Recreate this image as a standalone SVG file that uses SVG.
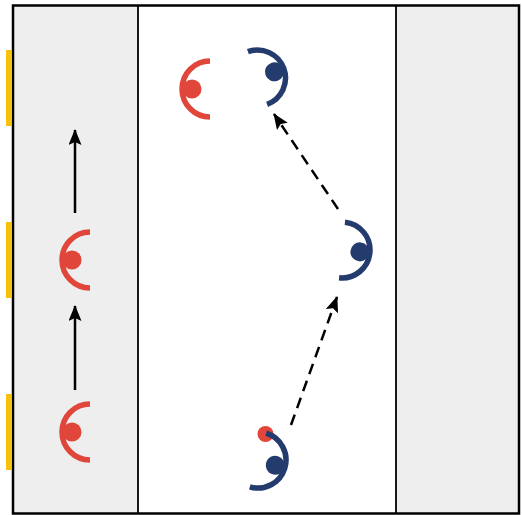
<svg xmlns="http://www.w3.org/2000/svg" width="522" height="515" viewBox="0 0 522 515">
<style>
.red{stroke:#e0463a;fill:#e0463a}
.blue{stroke:#243b6e;fill:#243b6e}
.arc{fill:none;stroke-width:5.5}
.head{stroke:none}
.conn{stroke:#000;stroke-width:2.5;fill:none}
.dash{stroke-dasharray:11,7}
</style>
<defs>
<marker id="ah" viewBox="0 0 16 13" refX="15" refY="6.5" markerWidth="16" markerHeight="13" markerUnits="userSpaceOnUse" orient="auto">
<path d="M0,0 L16,6.5 L0,13 L3,6.5 Z" fill="#000"/>
</marker>
</defs>
<g id="field">
<rect x="13" y="5.5" width="125" height="508" fill="#eeeeee"/>
<rect x="138" y="5.5" width="258" height="508" fill="#ffffff"/>
<rect x="396" y="5.5" width="123" height="508" fill="#eeeeee"/>
<line x1="138" y1="5.5" x2="138" y2="513.5" stroke="#000" stroke-width="1.8"/>
<line x1="396" y1="5.5" x2="396" y2="513.5" stroke="#000" stroke-width="1.8"/>
<rect x="13" y="5.5" width="506" height="508" fill="none" stroke="#000" stroke-width="2.5"/>
<rect x="6" y="50" width="5.5" height="76" fill="#f4c20d"/>
<rect x="6" y="222" width="5.5" height="76" fill="#f4c20d"/>
<rect x="6" y="394" width="5.5" height="76" fill="#f4c20d"/>
</g>
<g id="connectors">
<line class="conn" x1="75" y1="213" x2="75" y2="130" marker-end="url(#ah)"/>
<line class="conn" x1="75" y1="390" x2="75" y2="306" marker-end="url(#ah)"/>
<line class="conn dash" x1="291" y1="425" x2="337" y2="297" marker-end="url(#ah)"/>
<line class="conn dash" x1="338" y1="209" x2="274" y2="114" marker-end="url(#ah)"/>
</g>
<g id="red1" class="red" transform="translate(90,260)">
<path class="arc" d="M0,-28 A28,28 0 0 0 0,28"/>
<circle class="head" cx="-18" cy="0" r="9.5"/>
</g>
<g id="red2" class="red" transform="translate(90,432)">
<path class="arc" d="M0,-28 A28,28 0 0 0 0,28"/>
<circle class="head" cx="-18" cy="0" r="9.5"/>
</g>
<g id="red3" class="red" transform="translate(210,89)">
<path class="arc" d="M0,-28 A28,28 0 0 0 0,28"/>
<circle class="head" cx="-18" cy="0" r="9.5"/>
</g>
<g id="blue1" class="blue" transform="translate(257.5,78) rotate(160)">
<path class="arc" d="M0,-28 A28,28 0 0 0 0,28"/>
<circle class="head" cx="-18" cy="0" r="9.5"/>
</g>
<g id="blue2" class="blue" transform="translate(342,250) rotate(186)">
<path class="arc" d="M0,-28 A28,28 0 0 0 0,28"/>
<circle class="head" cx="-18" cy="0" r="9.5"/>
</g>
<g id="ball">
<circle cx="265.5" cy="434" r="8" fill="#e0463a"/>
</g>
<g id="blue3" class="blue" transform="translate(258,460) rotate(197)">
<path class="arc" d="M0,-28 A28,28 0 0 0 0,28"/>
<circle class="head" cx="-18" cy="0" r="9.5"/>
</g>
</svg>
